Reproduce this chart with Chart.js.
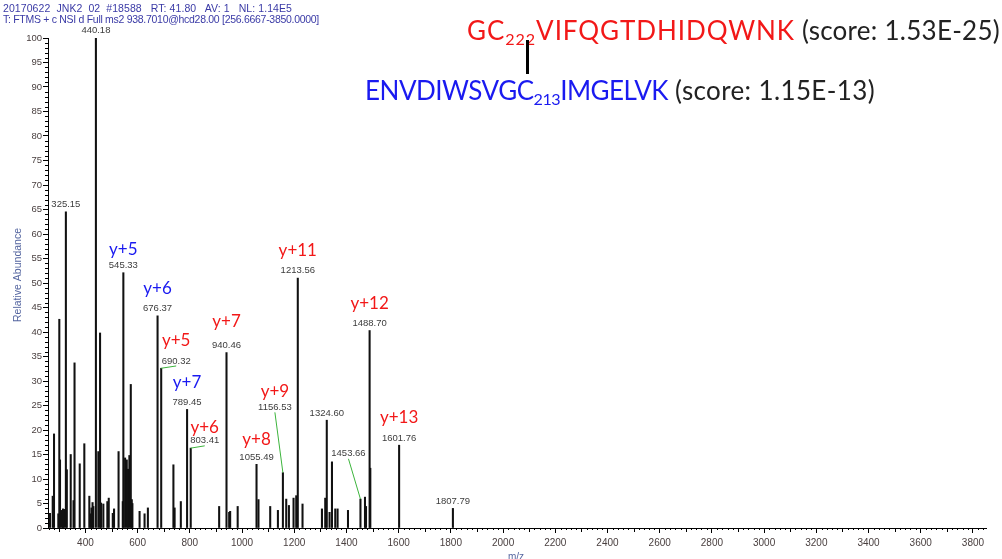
<!DOCTYPE html>
<html>
<head>
<meta charset="utf-8">
<title>JNK2 MS2 spectrum</title>
<script src="https://cdn.jsdelivr.net/npm/chart.js@4.4.0/dist/chart.umd.min.js"></script>
<style>
html, body { margin: 0; padding: 0; background: #fff; }
#wrap { position: relative; width: 1002px; height: 559px; overflow: hidden; }
#spectrum { position: absolute; left: 0; top: 0; }
.hdr { position: absolute; left: 3px; font-family: "Liberation Sans", Arial, sans-serif; font-size: 10.5px; color: #3a3aa6; white-space: pre; line-height: 11px; }
.pep { position: absolute; font-family: Lato, "Open Sans", sans-serif; font-size: 26px; white-space: pre; color: #222; line-height: 30px; }
.pep sub { font-size: 0.62em; vertical-align: -0.3em; line-height: 0; }
.chainA { color: #f21818; }
.chainB { color: #1a1af0; }
#link { position: absolute; width: 3px; background: #000; }
</style>
</head>
<body>
<div id="wrap">
  <canvas id="spectrum" width="1002" height="559"></canvas>
  <div id="hdr1" class="hdr" style="top:3px">20170622  JNK2  02  #18588   RT: 41.80   AV: 1   NL: 1.14E5</div>
  <div id="hdr2" class="hdr" style="top:14px">T: FTMS + c NSI d Full ms2 938.7010@hcd28.00 [256.6667-3850.0000]</div>
  <div class="pep" style="top:15px; left:467px"><span id="seqA" class="chainA">GC<sub>222</sub>VIFQGTDHIDQWNK</span><span id="scoreA"> (score: 1.53E-25)</span></div>
  <div class="pep" style="top:75px; left:365px"><span id="seqB" class="chainB">ENVDIWSVGC<sub>213</sub>IMGELVK</span><span id="scoreB"> (score: 1.15E-13)</span></div>
  <div id="link" style="left:526px; top:40px; height:34px"></div>
</div>
<script>
// centroid peaks, m/z and relative abundance (%)
var mzValues = [264.3, 274.7, 279.7, 296.2, 300.0, 302.7, 310.3, 314.2, 318.0, 325.15,
	328.8, 343.7, 354.4, 358.3, 378.2, 395.8, 415.0, 419.5, 423.3, 427.3,
	430.4, 440.18, 449.5, 456.1, 459.9, 468.7, 484.0, 489.4, 504.8, 509.7,
	527.0, 543.1, 545.33, 552.0, 558.4, 563.4, 568.4, 573.8, 577.6, 580.0,
	607.5, 626.6, 639.3, 676.37, 690.32, 737.1, 741.7, 765.5, 789.45, 803.41,
	912.3, 940.46, 950.7, 954.5, 983.3, 1055.49, 1063.0, 1107.9, 1137.4, 1156.53,
	1169.3, 1179.6, 1197.3, 1207.6, 1213.56, 1231.7, 1306.1, 1318.7, 1324.60, 1335.3,
	1344.5, 1357.1, 1366.0, 1405.9, 1453.66, 1471.0, 1474.9, 1488.70, 1491.4, 1601.76,
	1807.79];
var abundance = [3.0, 6.5, 19.2, 2.9, 42.6, 13.9, 3.6, 3.9, 3.8, 64.5,
	11.9, 15.0, 5.6, 33.7, 13.1, 17.2, 6.5, 2.9, 4.1, 5.2,
	4.4, 100, 15.6, 39.8, 5.1, 4.9, 5.4, 6.1, 3.0, 3.9,
	15.6, 5.4, 52.1, 14.3, 13.9, 12.0, 14.8, 29.3, 5.8, 5.0,
	3.4, 2.9, 4.1, 43.3, 32.6, 12.9, 4.1, 5.4, 24.2, 16.3,
	4.4, 35.8, 3.2, 3.4, 4.4, 13.0, 5.8, 4.4, 3.6, 11.3,
	5.9, 4.6, 6.1, 6.6, 51.0, 4.9, 3.9, 6.1, 22.0, 3.2,
	13.5, 3.9, 3.9, 3.6, 5.9, 6.3, 4.4, 40.3, 12.2, 16.9,
	4.0];

// peaks that get their m/z printed
var labelledMz = [325.15, 440.18, 545.33, 676.37, 690.32, 789.45, 803.41, 940.46,
	1055.49, 1156.53, 1213.56, 1324.60, 1453.66, 1488.70, 1601.76, 1807.79];

// assigned fragment ions; chain "a" = GC222VIFQ..., chain "b" = ENVDIWSVGC213...
var ionMz = [545.33, 676.37, 789.45, 690.32, 803.41, 940.46, 1055.49, 1156.53, 1213.56, 1488.70, 1601.76];
var ionNames = ["y+5", "y+6", "y+7", "y+5", "y+6", "y+7", "y+8", "y+9", "y+11", "y+12", "y+13"];
var ionChain = ["b", "b", "b", "a", "a", "a", "a", "a", "a", "a", "a"];

var xTickValues = [400, 600, 800, 1000, 1200, 1400, 1600, 1800, 2000, 2200, 2400, 2600, 2800, 3000, 3200, 3400, 3600, 3800];
var yTickValues = [0, 5, 10, 15, 20, 25, 30, 35, 40, 45, 50, 55, 60, 65, 70, 75, 80, 85, 90, 95, 100];

var chainColors = { a: "#f21818", b: "#1a1af0" };
// labels pushed aside from their peak get a green leader line
var labelShift = { "690.32": [15, 0], "803.41": [14, 0], "1156.53": [-8, -58], "1453.66": [-12, -38] };
var ionLift = { "545.33": 10, "803.41": 8, "940.46": 18, "1055.49": 12, "1156.53": 10 };

function keyOf(mz) { return mz.toFixed(2); }

var minorTicks = {
	id: "minorTicks",
	afterDraw: function(chart) {
		var ctx = chart.ctx, xs = chart.scales.x, ys = chart.scales.y;
		ctx.save();
		ctx.strokeStyle = "#000";
		ctx.lineWidth = 1;
		ctx.beginPath();
		for (var v = 0; v <= 100; v++) {
			if (v % 5 === 0) continue;
			var py = Math.round(ys.getPixelForValue(v)) + 0.5;
			ctx.moveTo(ys.right - 3, py);
			ctx.lineTo(ys.right, py);
		}
		for (var m = 260; m <= 3840; m += 20) {
			if (m % 200 === 0) continue;
			var px = Math.round(xs.getPixelForValue(m)) + 0.5;
			var len = (m % 100 === 0) ? 4 : 2;
			ctx.moveTo(px, xs.top);
			ctx.lineTo(px, xs.top + len);
		}
		ctx.stroke();
		ctx.fillStyle = "#5566a0";
		ctx.font = "10.5px 'Liberation Sans', Arial, sans-serif";
		ctx.translate(21, (ys.top + ys.bottom) / 2 - 8);
		ctx.rotate(-Math.PI / 2);
		ctx.textAlign = "center";
		ctx.fillText("Relative Abundance", 0, 0);
		ctx.restore();
		ctx.save();
		ctx.fillStyle = "#5566a0";
		ctx.font = "10px 'Liberation Sans', Arial, sans-serif";
		ctx.textAlign = "center";
		ctx.textBaseline = "top";
		ctx.fillText("m/z", 516, 552);
		ctx.restore();
	}
};

var peakLabels = {
	id: "peakLabels",
	afterDatasetsDraw: function(chart) {
		var ctx = chart.ctx, xs = chart.scales.x, ys = chart.scales.y;
		var spots = {};
		ctx.save();
		labelledMz.forEach(function(mz) {
			var i = mzValues.indexOf(mz);
			var px = xs.getPixelForValue(mz);
			var top = ys.getPixelForValue(abundance[i]);
			var shift = labelShift[keyOf(mz)] || [0, 0];
			var lx = px + shift[0], ly = top - 7.3 + shift[1];
			spots[keyOf(mz)] = [lx, ly];
			if (labelShift[keyOf(mz)]) {
				ctx.strokeStyle = "#3cb43c";
				ctx.lineWidth = 1;
				ctx.beginPath();
				ctx.moveTo(lx, ly + 5);
				ctx.lineTo(px, top);
				ctx.stroke();
			}
			ctx.fillStyle = "#3c3c3c";
			ctx.font = "9.5px 'Liberation Sans', Arial, sans-serif";
			ctx.textAlign = "center";
			ctx.textBaseline = "middle";
			ctx.fillText(mz.toFixed(2), lx, ly);
		});
		ctx.font = "17px Lato, 'Open Sans', sans-serif";
		ctx.textAlign = "center";
		ctx.textBaseline = "alphabetic";
		ionMz.forEach(function(mz, j) {
			var s = spots[keyOf(mz)];
			var lift = ionLift[keyOf(mz)] || 14.5;
			ctx.fillStyle = chainColors[ionChain[j]];
			ctx.fillText(ionNames[j], s[0], s[1] - lift);
		});
		ctx.restore();
	}
};

var spectrumChart = new Chart(document.getElementById("spectrum"), {
	type: "bar",
	data: {
		datasets: [{
			data: mzValues.map(function(mz, i) { return { x: mz, y: abundance[i] }; }),
			backgroundColor: "#111",
			borderWidth: 0,
			barThickness: 1.4
		}]
	},
	options: {
		responsive: false,
		devicePixelRatio: 1,
		animation: false,
		layout: { padding: { left: 0, right: 16, top: 38, bottom: 0 } },
		plugins: { legend: { display: false }, tooltip: { enabled: false } },
		scales: {
			x: {
				type: "linear",
				min: 256.6667,
				max: 3850,
				offset: false,
				grid: { offset: false, drawOnChartArea: false, drawTicks: true, tickLength: 5, color: "#000" },
				border: { display: true, color: "#000", width: 1 },
				afterBuildTicks: function(scale) {
					scale.ticks = xTickValues.map(function(v) { return { value: v }; });
				},
				afterFit: function(scale) { scale.height = 31; },
				ticks: {
					color: "#4a4040",
					font: { family: "'Liberation Sans', Arial, sans-serif", size: 10 },
					padding: 4,
					maxRotation: 0,
					autoSkip: false,
					callback: function(v) { return String(v); }
				}
			},
			y: {
				min: 0,
				max: 100,
				grid: { drawOnChartArea: false, drawTicks: true, tickLength: 5, color: "#000" },
				border: { display: true, color: "#000", width: 1 },
				afterBuildTicks: function(scale) {
					scale.ticks = yTickValues.map(function(v) { return { value: v }; });
				},
				afterFit: function(scale) { scale.width = 48; },
				ticks: {
					color: "#4a4040",
					font: { family: "'Liberation Sans', Arial, sans-serif", size: 9.5 },
					padding: 1
				}
			}
		}
	},
	plugins: [minorTicks, peakLabels]
});

// stretch a run of text to a given width with letter spacing
function fitWidth(id, width) {
	var el = document.getElementById(id);
	el.style.letterSpacing = "0px";
	var natural = el.getBoundingClientRect().width;
	el.style.letterSpacing = ((width - natural) / el.textContent.length) + "px";
}
fitWidth("hdr1", 289);
fitWidth("hdr2", 316);
fitWidth("seqA", 328);
fitWidth("scoreA", 205);
fitWidth("seqB", 303);
fitWidth("scoreB", 207);
</script>
</body>
</html>
